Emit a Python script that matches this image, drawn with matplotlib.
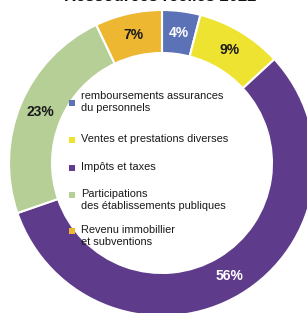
"""Donut chart: Ressources réelles 2022, legend drawn inside the hole."""

import matplotlib
matplotlib.use("Agg")
import matplotlib.pyplot as plt
from matplotlib.patches import Rectangle

plt.rcParams["font.family"] = ["Liberation Sans", "DejaVu Sans"]

W, H = 307, 313  # px at dpi 100

TITLE = "Ressources réelles 2022"
categories = [
    "remboursements assurances\ndu personnels",
    "Ventes et prestations diverses",
    "Impôts et taxes",
    "Participations\ndes établissements publiques",
    "Revenu immobillier\net subventions",
]
shares = [4, 9, 56, 23, 7]
colours = ["#5b72b6", "#efe332", "#5f3c8b", "#b5cf97", "#eeb731"]
label_colours = ["white", "#1a1a1a", "white", "#1a1a1a", "#1a1a1a"]

# layout (pixels from top-left)
CX, CY, R_OUT, R_IN = 162, 163, 153, 110
LEG_SQ_X, LEG_TXT_X = 69, 81
leg_sq_y = [103, 139.5, 168, 194.5, 230.5]
leg_txt_y = [91, 134, 162.5, 189, 225]

fig = plt.figure(figsize=(W / 100, H / 100), dpi=100, facecolor="white")

# donut --------------------------------------------------------------------
ax = fig.add_axes([(CX - R_OUT) / W, (H - CY - R_OUT) / H,
                   2 * R_OUT / W, 2 * R_OUT / H])
wedges, texts = ax.pie(
    shares, colors=colours, startangle=90, counterclock=False,
    radius=1.0, labels=[f"{v}%" for v in shares],
    labeldistance=(1 + R_IN / R_OUT) / 2,
    wedgeprops=dict(width=1 - R_IN / R_OUT, edgecolor="white", linewidth=1.5),
    textprops=dict(fontsize=10, fontweight="bold", ha="center", va="center"),
)
for t, c in zip(texts, label_colours):
    t.set_color(c)
    t.set_ha("center")
    t.set_va("center")
ax.set_xlim(-1, 1)
ax.set_ylim(-1, 1)
ax.set_aspect("equal")
ax.axis("off")
for w in wedges:
    w.set_clip_on(False)

# overlay in pixel coords for legend + title -------------------------------
ov = fig.add_axes([0, 0, 1, 1], facecolor="none")
ov.set_xlim(0, W)
ov.set_ylim(H, 0)
ov.axis("off")

for name, col, sy, ty in zip(categories, colours, leg_sq_y, leg_txt_y):
    ov.add_patch(Rectangle((LEG_SQ_X, sy - 3), 6, 6, color=col, lw=0))
    ov.text(LEG_TXT_X, ty, name, fontsize=7.9, color="#1a1a1a",
            ha="left", va="top", linespacing=1.25)

ov.text(160, 1.0, TITLE, fontsize=12, fontweight="bold", color="#111111",
        ha="center", va="baseline", clip_on=False)

fig.savefig("out.png", dpi=100, facecolor="white")
